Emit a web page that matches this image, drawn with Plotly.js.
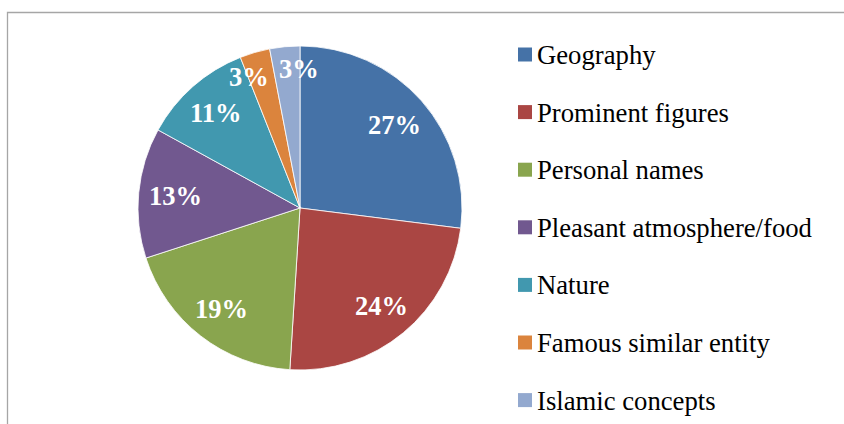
<!DOCTYPE html>
<html>
<head>
<meta charset="utf-8">
<script src="https://cdn.plot.ly/plotly-3.0.1.min.js"></script>
<style>
html,body{margin:0;padding:0;background:#fff;}
#chart{width:844px;height:424px;}
</style>
</head>
<body>
<div id="chart"></div>
<script>
const categories = ["Geography", "Prominent figures", "Personal names", "Pleasant atmosphere/food", "Nature", "Famous similar entity", "Islamic concepts"];
const shares = [27, 24, 19, 13, 11, 3, 3];
const colors = ["#4572A7", "#AA4643", "#89A54E", "#71588F", "#4198AF", "#DB843D", "#93A9CF"];

const W = 844, H = 424;
const cx = 300, cy = 208, R = 162;
const FONT = '"Liberation Serif", "Times New Roman", serif';
const LABEL_SIZE = 26.5;

const trace = {
  type: 'pie',
  labels: categories,
  values: shares,
  sort: false,
  direction: 'clockwise',
  rotation: 0,
  marker: {colors: colors, line: {color: '#ffffff', width: 0.8}},
  textinfo: 'none',
  hoverinfo: 'label+percent',
  showlegend: false,
  domain: {x: [(cx - R) / W, (cx + R) / W], y: [(H - cy - R) / H, (H - cy + R) / H]}
};

const shapes = [{
  type: 'rect', xref: 'paper', yref: 'paper',
  x0: 7.5 / W, x1: 1.2, y0: -0.2, y1: (H - 12.5) / H,
  line: {color: '#a6a6a6', width: 1.3}, fillcolor: 'rgba(0,0,0,0)', layer: 'below'
}];
const annotations = [];

// Data labels: "inside end" placement computed from the slice angles
const total = shares.reduce((a, b) => a + b, 0);
let cum = 0;
const labs = shares.map((v) => {
  const mid = (cum + v / 2) / total * 2 * Math.PI;
  cum += v;
  const txt = Math.round(v / total * 100) + '%';
  const ux = Math.sin(mid), uy = -Math.cos(mid);
  const digits = txt.length - 1;
  const a = (digits * 0.5 + 1.0) * LABEL_SIZE / 2;
  const b = 9;
  const Rin = 152;
  const cxo = Math.sign(ux) * a, cyo = Math.sign(uy) * b;
  const uc = ux * cxo + uy * cyo;
  const d = -uc + Math.sqrt(uc * uc - (a * a + b * b) + Rin * Rin);
  return {txt: txt, x: cx + ux * d, y: cy + uy * d, hw: a};
});
// push apart neighbouring labels that collide horizontally
for (let i = 1; i < labs.length; i++) {
  const p = labs[i - 1], q = labs[i];
  const need = p.hw + q.hw + 10;
  if (Math.abs(q.y - p.y) < 20 && Math.abs(q.x - p.x) < need) {
    const s = (need - Math.abs(q.x - p.x)) / 2;
    if (q.x >= p.x) { q.x += s; p.x -= s; } else { q.x -= s; p.x += s; }
  }
}
labs.forEach((l) => {
  annotations.push({
    xref: 'paper', yref: 'paper', x: l.x / W, y: (H - l.y) / H,
    xanchor: 'center', yanchor: 'middle', showarrow: false,
    text: '<b>' + l.txt + '</b>',
    font: {family: FONT, size: LABEL_SIZE, color: '#ffffff'}
  });
});

// Legend built from the category and colour arrays
const legY0 = 54.5, legStep = 57.6;
categories.forEach((c, i) => {
  const yc = legY0 + i * legStep;
  shapes.push({
    type: 'rect', xref: 'paper', yref: 'paper',
    x0: 518 / W, x1: 532 / W, y0: (H - yc - 7) / H, y1: (H - yc + 7) / H,
    line: {width: 0}, fillcolor: colors[i]
  });
  annotations.push({
    xref: 'paper', yref: 'paper', x: 535 / W, y: (H - yc - 0.5) / H,
    xanchor: 'left', yanchor: 'middle', showarrow: false,
    text: c, font: {family: FONT, size: 26.7, color: '#000000'}
  });
});

const layout = {
  width: W, height: H,
  margin: {l: 0, r: 0, t: 0, b: 0},
  paper_bgcolor: '#ffffff',
  showlegend: false,
  shapes: shapes,
  annotations: annotations
};

Plotly.newPlot('chart', [trace], layout, {displayModeBar: false, staticPlot: true});
</script>
</body>
</html>
